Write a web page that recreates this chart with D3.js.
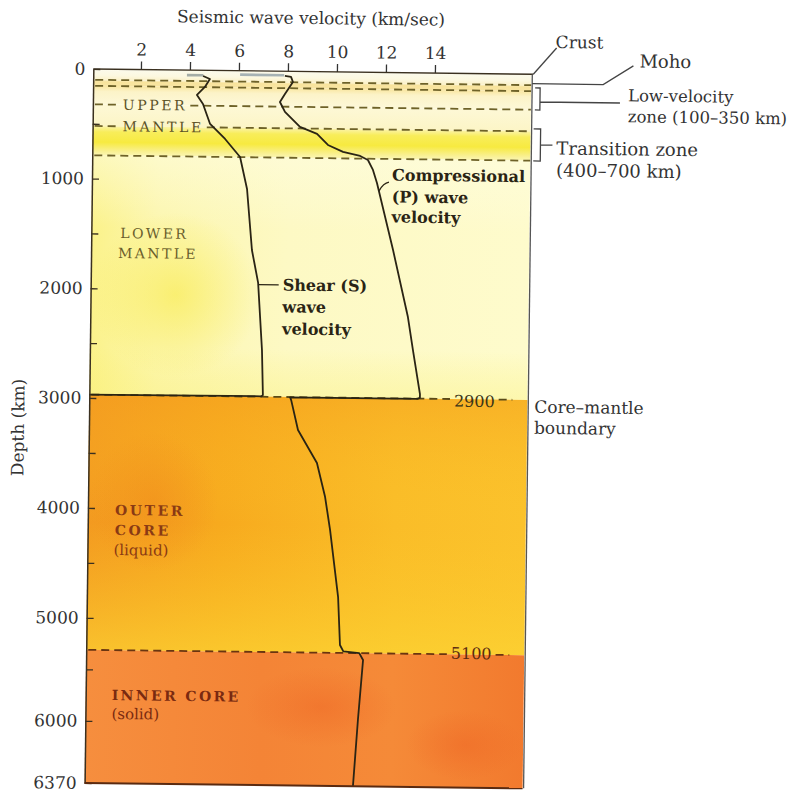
<!DOCTYPE html>
<html><head><meta charset="utf-8">
<script src="https://cdn.jsdelivr.net/npm/d3@7/dist/d3.min.js"></script>
<style>
body{margin:0;background:#fff;}
svg text{font-family:"DejaVu Serif","Liberation Serif",serif;}
</style></head>
<body><svg id="c" width="799" height="793"></svg>
<script>
// ---------- data ----------
const velTicks = [2, 4, 6, 8, 10, 12, 14];
const depthTicks = [0, 500, 1000, 1500, 2000, 2500, 3000, 3500, 4000, 4500, 5000, 5500, 6000, 6370];
const depthLabels = [0, 1000, 2000, 3000, 4000, 5000, 6000, 6370];

// layer bands (depth as drawn against the axis, km)
const layerNames  = ["Crust", "Moho", "Low-velocity zone", "Upper mantle", "Transition zone", "Lower mantle", "Outer core", "Inner core"];
const layerTop    = [0, 99, 154, 323, 520, 788, 2970, 5310];
const layerBottom = [99, 154, 323, 520, 788, 2970, 5310, 6370];

// dashed boundaries in the upper mantle
const dashDepths = [99, 154, 323, 520, 788];
// major boundaries (drawn depth) and their printed labels
const boundaryDepths = [2970, 5310];
const boundaryLabels = ["2900", "5100"];

// crust segments (grey)
const crustSDepth = [46, 46], crustS = [3.88, 4.55];
const crustPDepth = [36, 36], crustP = [6.05, 7.85];

// shear (S) wave velocity
const sDepth = [52, 79, 152, 226, 307, 489, 624, 787, 1078, 1633, 1933, 2544, 2955, 2966, 2970];
const sVel   = [4.54, 4.82, 4.62, 4.30, 4.55, 4.85, 5.47, 6.09, 6.39, 6.62, 6.89, 7.08, 7.14, 7.08, 0.05];

// compressional (P) wave velocity
const pDepth = [43, 51, 97, 152, 207, 281, 371, 506, 568, 667, 729, 764, 800, 890, 1008, 1618, 2227, 2527, 2928, 2962, 2972, 2972, 3000, 3268, 3566, 3875, 4175, 4783, 5233, 5295, 5310, 5376, 5959, 6370];
const pVel   = [7.88, 8.13, 8.21, 8.05, 7.89, 7.69, 7.90, 8.52, 9.22, 9.67, 10.29, 10.99, 11.31, 11.52, 11.69, 12.38, 13.02, 13.24, 13.55, 13.55, 13.45, 8.25, 8.3, 8.59, 9.38, 9.73, 9.95, 10.31, 10.41, 10.55, 11.2, 11.36, 11.18, 11.01];

// ---------- scales ----------
const svg = d3.select("#c");
const root = svg.append("g").attr("transform", "rotate(0.7,310,425)");
const x = d3.scaleLinear().domain([0, 18]).range([87.6, 528.6]);
const y = d3.scaleLinear().domain([0, 3000, 5000, 6000, 6370]).range([71.6, 400.6, 620.6, 723.6, 785.7]);
const plotL = 89, plotR = 527;

const defs = svg.append("defs");
function lin(id, stops, vertical){
  const g = defs.append("linearGradient").attr("id", id)
    .attr("x1", 0).attr("y1", 0).attr("x2", vertical ? 0 : 1).attr("y2", vertical ? 1 : 0);
  stops.forEach(s => g.append("stop").attr("offset", s[0]).attr("stop-color", s[1]).attr("stop-opacity", s[2] ?? 1));
}
lin("gCrust", [[0, "#fbfaec"], [0.6, "#fcf8e0"], [1, "#fbf1c8"]], true);
lin("gMoho", [[0, "#fbf3cc"], [0.3, "#f8e39c"], [1, "#f8e5a2"]], true);
lin("gLvz", [[0, "#f9e6a0"], [0.3, "#fcf3c8"], [1, "#fdf8d8"]], true);
lin("gUpper", [[0, "#fdf8d6"], [1, "#fcf5c6"]], true);
lin("gTrans", [[0, "#fbf3a8"], [0.2, "#f8ed5a"], [0.55, "#f7ea40"], [0.85, "#f9f090"], [1, "#fbf6b4"]], true);
lin("gLower", [[0, "#fbf28a"], [0.15, "#fcf6ae"], [0.45, "#fdf9c4"], [1, "#fefbcc"]], false);
lin("gLowerV", [[0, "#fefde2", 0.55], [0.3, "#fefde2", 0], [0.8, "#f9ee60", 0.0], [1, "#faf076", 0.35]], true);
lin("gOuter", [[0, "#f39a20"], [0.3, "#f7aa1e"], [0.7, "#fabd28"], [1, "#fbc22c"]], false);
lin("gOuterV", [[0, "#f5a020", 0.45], [0.5, "#fcc82a", 0], [1, "#fcd634", 0.65]], true);
lin("gInner", [[0, "#f68e3e"], [0.4, "#f48436"], [0.7, "#f58a38"], [1, "#f27a2e"]], false);

const fills = ["url(#gCrust)", "url(#gMoho)", "url(#gLvz)", "url(#gUpper)", "url(#gTrans)", "url(#gLower)", "url(#gOuter)", "url(#gInner)"];

const bands = root.append("g");
layerNames.forEach((n, i) => {
  bands.append("rect").attr("x", plotL).attr("width", plotR - plotL)
    .attr("y", y(layerTop[i])).attr("height", y(layerBottom[i]) - y(layerTop[i]))
    .attr("fill", fills[i]);
});
const iL = layerNames.indexOf("Lower mantle"), iO = layerNames.indexOf("Outer core");
bands.append("rect").attr("x", plotL).attr("width", plotR - plotL)
  .attr("y", y(layerTop[iL])).attr("height", y(layerBottom[iL]) - y(layerTop[iL])).attr("fill", "url(#gLowerV)");
bands.append("rect").attr("x", plotL).attr("width", plotR - plotL)
  .attr("y", y(layerTop[iO])).attr("height", y(layerBottom[iO]) - y(layerTop[iO])).attr("fill", "url(#gOuterV)");
function blot(id, col, op){
  const g = defs.append("radialGradient").attr("id", id).attr("cx", 0.5).attr("cy", 0.5).attr("r", 0.5);
  g.append("stop").attr("offset", 0).attr("stop-color", col).attr("stop-opacity", op);
  g.append("stop").attr("offset", 1).attr("stop-color", col).attr("stop-opacity", 0);
}
blot("gBlot", "#f8ea48", 0.6);
bands.append("rect").attr("x", plotL).attr("width", 170).attr("y", y(1300)).attr("height", y(2800) - y(1300)).attr("fill", "url(#gBlot)");
blot("gRed", "#ee6424", 0.45);
bands.append("rect").attr("x", 250).attr("width", 150).attr("y", y(5450)).attr("height", 80).attr("fill", "url(#gRed)");
bands.append("rect").attr("x", 410).attr("width", 117).attr("y", y(5850)).attr("height", 70).attr("fill", "url(#gRed)");
blot("gOr", "#f08a1c", 0.5);
bands.append("rect").attr("x", plotL).attr("width", 130).attr("y", y(3300)).attr("height", 140).attr("fill", "url(#gOr)");

// ---------- helpers ----------
const dashG = root.append("g");
const labG = root.append("g");
function label(g, txt, xx, yy, opts){
  const t = g.append("text").attr("x", xx).attr("y", yy).text(txt)
    .attr("font-size", opts.size || 15).attr("fill", opts.color || "#333")
    .attr("dominant-baseline", "central")
    .attr("text-anchor", opts.anchor || "start");
  if (opts.weight) t.attr("font-weight", opts.weight);
  if (opts.ls) t.attr("letter-spacing", opts.ls);
  return t;
}
function dashedWithGap(depth, color, gaps, xEnd){
  const yy = y(depth);
  let segs = [], start = plotL + 2;
  gaps.sort((a, b) => a[0] - b[0]).forEach(g => { segs.push([start, g[0]]); start = g[1]; });
  segs.push([start, xEnd ?? plotR]);
  segs.forEach(s => {
    if (s[1] - s[0] < 2) return;
    dashG.append("line").attr("x1", s[0]).attr("x2", s[1]).attr("y1", yy).attr("y2", yy)
      .attr("stroke", color).attr("stroke-width", 1.8).attr("stroke-dasharray", "8,5");
  });
}

// ---------- dashed lines ----------
const upperColor = "#5c5226";
const upperLbl = label(labG, "UPPER", 119, y(dashDepths[2]), {size: 14, color: upperColor, ls: 2.6});
const mantleLbl = label(labG, "MANTLE", 119, y(dashDepths[3]), {size: 14, color: upperColor, ls: 2.6});
const bw1 = upperLbl.node().getComputedTextLength() + 5;
const bw2 = mantleLbl.node().getComputedTextLength() + 5;
dashDepths.forEach((d, i) => {
  let gaps = [];
  if (i === 2) gaps = [[114, 117 + bw1]];
  if (i === 3) gaps = [[114, 117 + bw2]];
  dashedWithGap(d, "#6e6228", gaps);
});
const bLbl = boundaryDepths.map((d, i) =>
  label(labG, boundaryLabels[i], 474, y(d) + (i === 0 ? 2 : -1), {size: 16, color: i === 0 ? "#3a3418" : "#5a2a10", anchor: "middle"}));
boundaryDepths.forEach((d, i) => {
  const w = bLbl[i].node().getComputedTextLength();
  dashedWithGap(d, i === 0 ? "#5a4a18" : "#6a3510", [[474 - w / 2 - 4, 474 + w / 2 + 4]], 512);
});

// ---------- curves ----------
const line = d3.line().x(d => x(d[1])).y(d => y(d[0]));
const curveG = root.append("g").attr("fill", "none");
curveG.append("path").attr("d", line(crustSDepth.map((d, i) => [d, crustS[i]])))
  .attr("stroke", "#a4aca6").attr("stroke-width", 2.6);
curveG.append("path").attr("d", line(crustPDepth.map((d, i) => [d, crustP[i]])))
  .attr("stroke", "#a6b2b4").attr("stroke-width", 2.6);
curveG.append("path").attr("d", line(sDepth.map((d, i) => [d, sVel[i]])))
  .attr("stroke", "#2a2414").attr("stroke-width", 1.8).attr("stroke-linejoin", "round");
curveG.append("path").attr("d", line(pDepth.map((d, i) => [d, pVel[i]])))
  .attr("stroke", "#2a2414").attr("stroke-width", 1.8).attr("stroke-linejoin", "round");

// ---------- axes ----------
const topAxis = d3.axisTop(x).tickValues(velTicks).tickSize(8).tickPadding(6).tickFormat(d3.format("d"));
const ga = root.append("g").attr("transform", `translate(0,${y(0)})`).call(topAxis);
ga.select(".domain").remove();
ga.selectAll("line").attr("stroke", "#333").attr("stroke-width", 1.3);
ga.selectAll("text").attr("font-size", 17).attr("fill", "#333").attr("font-family", "DejaVu Serif, serif");

const leftAxis = d3.axisLeft(y).tickValues(depthTicks).tickSizeInner(-7).tickSizeOuter(0).tickPadding(8)
  .tickFormat(d => depthLabels.includes(d) ? d : "");
const gl = root.append("g").attr("transform", `translate(${plotL},0)`).call(leftAxis);
gl.select(".domain").attr("stroke", "#3a3020").attr("stroke-width", 1.5);
gl.selectAll("line").attr("stroke", "#3a3020").attr("stroke-width", 1.3);
gl.selectAll("text").attr("font-size", 17).attr("fill", "#333").attr("font-family", "DejaVu Serif, serif");

// frame
const frame = root.append("g").attr("stroke", "#3a3020").attr("fill", "none");
frame.append("line").attr("x1", plotL).attr("x2", plotR + 2).attr("y1", y(0)).attr("y2", y(0)).attr("stroke-width", 1.4);
frame.append("line").attr("x1", plotR + 1).attr("x2", plotR + 1).attr("y1", y(0)).attr("y2", y(6370)).attr("stroke-width", 1.3).attr("stroke", "#555");
frame.append("line").attr("x1", plotL).attr("x2", plotR).attr("y1", y(6370)).attr("y2", y(6370)).attr("stroke-width", 2).attr("stroke", "#5a2a10");

// axis titles
root.append("text").attr("x", 306).attr("y", 18).attr("text-anchor", "middle").attr("dominant-baseline", "central")
  .attr("font-size", 17).attr("fill", "#333").text("Seismic wave velocity (km/sec)");
root.append("text").attr("transform", `translate(18,431) rotate(-90)`).attr("text-anchor", "middle")
  .attr("dominant-baseline", "central").attr("font-size", 17).attr("fill", "#333").text("Depth (km)");

// ---------- region labels ----------
label(labG, "LOWER", 118, y(1493), {size: 14, color: "#6a5e2c", ls: 2.4});
label(labG, "MANTLE", 116, y(1675), {size: 14, color: "#6a5e2c", ls: 2.4});
const coreCol = "#8a3a14";
label(labG, "OUTER", 116, y(4016), {size: 14, color: coreCol, ls: 2.6, weight: "bold"});
label(labG, "CORE", 116, y(4198), {size: 14, color: coreCol, ls: 2.6, weight: "bold"});
label(labG, "(liquid)", 115, y(4380), {size: 15, color: coreCol});
label(labG, "INNER CORE", 115, y(5746), {size: 14, color: "#7a2a10", ls: 2.4, weight: "bold"});
label(labG, "(solid)", 115, y(5930), {size: 15, color: "#7a2a10"});

const ink = "#2a2414";
label(labG, "Shear (S)", 281, y(1949), {size: 16, color: ink, weight: "bold"});
label(labG, "wave", 281, y(2149), {size: 16, color: ink, weight: "bold"});
label(labG, "velocity", 281, y(2350), {size: 16, color: ink, weight: "bold"});
root.append("line").attr("x1", x(6.9)).attr("x2", 277).attr("y1", y(1949)).attr("y2", y(1949)).attr("stroke", ink).attr("stroke-width", 1.3);

label(labG, "Compressional", 389, y(934), {size: 16, color: ink, weight: "bold"});
label(labG, "(P) wave", 389, y(1134), {size: 16, color: ink, weight: "bold"});
label(labG, "velocity", 389, y(1317), {size: 16, color: ink, weight: "bold"});
root.append("path").attr("d", `M${x(11.78)},${y(1080)} Q${x(11.95)},${y(1010)} 386,${y(1000)}`)
  .attr("fill", "none").attr("stroke", ink).attr("stroke-width", 1.3);

// ---------- right annotations ----------
const ann = root.append("g").attr("stroke", "#444").attr("fill", "none").attr("stroke-width", 1.3);
ann.append("path").attr("d", `M${plotR + 2},${y(0)} L552,45`);
ann.append("path").attr("d", `M${plotR + 1},${y(86)} L599,${y(86)} L629,62`);
ann.append("path").attr("d", `M${plotR + 4},${y(124)} L536,${y(124)} L536,${y(325)} L${plotR + 4},${y(325)} M536,${y(252)} L616,${y(252)}`);
ann.append("path").attr("d", `M${plotR + 3},${y(498)} L537,${y(498)} L537,${y(790)} L${plotR + 3},${y(790)} M537,${y(644)} L549,${y(644)}`);

const at = {size: 18, color: "#333"};
label(labG, "Crust", 551, 39, {size: 17, color: "#333"});
label(labG, "Moho", 635, 57, at);
label(labG, "Low-velocity", 624, 92, {size: 16.5, color: "#333"});
label(labG, "zone (100–350 km)", 624, 113, {size: 16.5, color: "#333"});
label(labG, "Transition zone", 553, 145, at);
label(labG, "(400–700 km)", 553, 167, at);
label(labG, "Core–mantle", 534, 404, {size: 17, color: "#333"});
label(labG, "boundary", 534, 425, {size: 17, color: "#333"});
</script></body></html>
